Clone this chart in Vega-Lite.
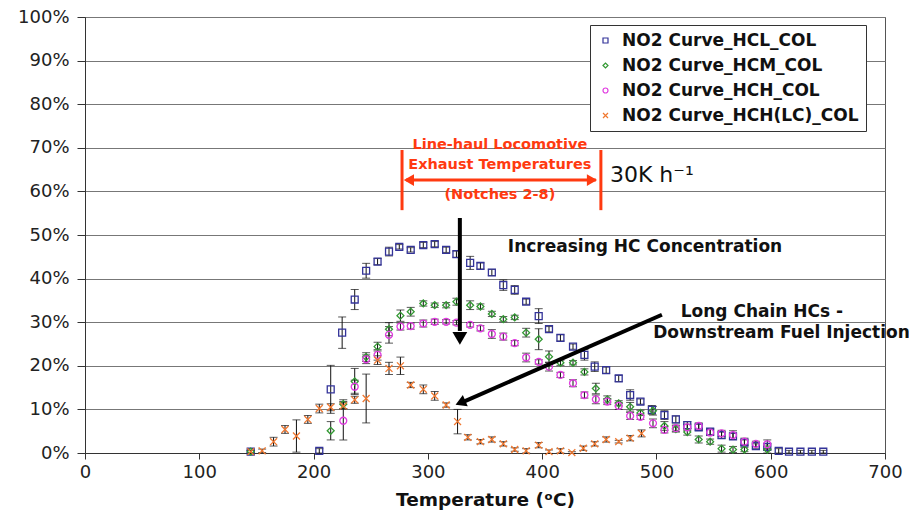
{
  "$schema": "https://vega.github.io/schema/vega-lite/v6.json",
  "width": 800,
  "height": 436,
  "autosize": "none",
  "padding": {"left": 85, "top": 17, "right": 24, "bottom": 67},
  "background": "white",
  "config": {
    "font": "DejaVu Sans",
    "view": {"stroke": "#555", "strokeWidth": 1},
    "axis": {"labelFont": "DejaVu Sans", "labelFontSize": 18, "labelColor": "#222", "domainColor": "#333", "tickColor": "#333", "titleFont": "DejaVu Sans", "titleColor": "#111", "labelFlush": false}
  },
  "datasets": {
    "pts": [
      {"s":"HCL_COL","t":145,"v":0.3,"e":0.3},{"s":"HCL_COL","t":205,"v":0.5,"e":0.5},{"s":"HCL_COL","t":215,"v":14.6,"e":5.5},{"s":"HCL_COL","t":225,"v":27.6,"e":3.6},{"s":"HCL_COL","t":236,"v":35.2,"e":2.3},{"s":"HCL_COL","t":246,"v":41.8,"e":1.7},{"s":"HCL_COL","t":256,"v":43.9,"e":0.7},{"s":"HCL_COL","t":266,"v":46.2,"e":1},{"s":"HCL_COL","t":275,"v":47.3,"e":0.5},{"s":"HCL_COL","t":285,"v":46.6,"e":0.5},{"s":"HCL_COL","t":296,"v":47.7,"e":0.6},{"s":"HCL_COL","t":306,"v":47.9,"e":0.6},{"s":"HCL_COL","t":316,"v":46.6,"e":0.6},{"s":"HCL_COL","t":325,"v":45.6,"e":0.7},{"s":"HCL_COL","t":337,"v":43.6,"e":1.5},{"s":"HCL_COL","t":346,"v":42.9,"e":0.7},{"s":"HCL_COL","t":356,"v":41.4,"e":0.7},{"s":"HCL_COL","t":366,"v":38.5,"e":1.2},{"s":"HCL_COL","t":376,"v":37.4,"e":1},{"s":"HCL_COL","t":386,"v":34.7,"e":0.6},{"s":"HCL_COL","t":397,"v":31.4,"e":1.7},{"s":"HCL_COL","t":406,"v":28.4,"e":0.6},{"s":"HCL_COL","t":416,"v":26.4,"e":0.7},{"s":"HCL_COL","t":427,"v":24.4,"e":0.6},{"s":"HCL_COL","t":437,"v":22.5,"e":1.2},{"s":"HCL_COL","t":446,"v":19.8,"e":1.1},{"s":"HCL_COL","t":456,"v":19.0,"e":0.7},{"s":"HCL_COL","t":467,"v":17.1,"e":0.7},{"s":"HCL_COL","t":477,"v":13.3,"e":1.2},{"s":"HCL_COL","t":486,"v":11.8,"e":0.6},{"s":"HCL_COL","t":496,"v":9.9,"e":1},{"s":"HCL_COL","t":507,"v":8.7,"e":1},{"s":"HCL_COL","t":517,"v":7.7,"e":0.8},{"s":"HCL_COL","t":527,"v":6.4,"e":0.8},{"s":"HCL_COL","t":537,"v":5.9,"e":0.7},{"s":"HCL_COL","t":547,"v":4.9,"e":0.7},{"s":"HCL_COL","t":557,"v":4.1,"e":0.7},{"s":"HCL_COL","t":567,"v":3.8,"e":0.7},{"s":"HCL_COL","t":577,"v":2.4,"e":0.6},{"s":"HCL_COL","t":587,"v":1.6,"e":0.5},{"s":"HCL_COL","t":597,"v":1.4,"e":0.7},{"s":"HCL_COL","t":607,"v":0.5,"e":0.5},{"s":"HCL_COL","t":616,"v":0.3,"e":0.3},{"s":"HCL_COL","t":626,"v":0.3,"e":0.3},{"s":"HCL_COL","t":636,"v":0.3,"e":0.3},{"s":"HCL_COL","t":646,"v":0.3,"e":0.3},
      {"s":"HCM_COL","t":145,"v":0.3,"e":0.3},{"s":"HCM_COL","t":215,"v":5.1,"e":2.1},{"s":"HCM_COL","t":226,"v":11.2,"e":1},{"s":"HCM_COL","t":236,"v":16.4,"e":3},{"s":"HCM_COL","t":246,"v":22,"e":1},{"s":"HCM_COL","t":256,"v":24.4,"e":1},{"s":"HCM_COL","t":266,"v":28.4,"e":1.5},{"s":"HCM_COL","t":276,"v":31.5,"e":1.3},{"s":"HCM_COL","t":285,"v":32.4,"e":1},{"s":"HCM_COL","t":296,"v":34.3,"e":0.6},{"s":"HCM_COL","t":306,"v":33.9,"e":0.5},{"s":"HCM_COL","t":316,"v":33.9,"e":0.6},{"s":"HCM_COL","t":325,"v":34.7,"e":0.8},{"s":"HCM_COL","t":337,"v":33.9,"e":1},{"s":"HCM_COL","t":346,"v":33.6,"e":0.6},{"s":"HCM_COL","t":356,"v":31.9,"e":0.6},{"s":"HCM_COL","t":366,"v":30.7,"e":0.6},{"s":"HCM_COL","t":376,"v":31.1,"e":0.5},{"s":"HCM_COL","t":386,"v":27.6,"e":1},{"s":"HCM_COL","t":397,"v":26.1,"e":2.4},{"s":"HCM_COL","t":406,"v":22.1,"e":1.3},{"s":"HCM_COL","t":416,"v":20.7,"e":0.6},{"s":"HCM_COL","t":427,"v":20.7,"e":0.5},{"s":"HCM_COL","t":437,"v":18.6,"e":0.7},{"s":"HCM_COL","t":447,"v":14.8,"e":1.2},{"s":"HCM_COL","t":457,"v":12.3,"e":0.8},{"s":"HCM_COL","t":467,"v":11.4,"e":0.6},{"s":"HCM_COL","t":477,"v":10.6,"e":1},{"s":"HCM_COL","t":486,"v":9.2,"e":0.6},{"s":"HCM_COL","t":497,"v":9.7,"e":1},{"s":"HCM_COL","t":507,"v":6.2,"e":1},{"s":"HCM_COL","t":517,"v":5.5,"e":0.7},{"s":"HCM_COL","t":527,"v":4.8,"e":0.7},{"s":"HCM_COL","t":537,"v":3.1,"e":0.8},{"s":"HCM_COL","t":547,"v":2.6,"e":0.6},{"s":"HCM_COL","t":557,"v":1.0,"e":0.8},{"s":"HCM_COL","t":567,"v":0.8,"e":0.7},{"s":"HCM_COL","t":577,"v":0.8,"e":0.5},{"s":"HCM_COL","t":597,"v":0.8,"e":0.8},
      {"s":"HCH_COL","t":226,"v":7.4,"e":4.4},{"s":"HCH_COL","t":236,"v":15.2,"e":1.5},{"s":"HCH_COL","t":246,"v":21.5,"e":1},{"s":"HCH_COL","t":256,"v":22.5,"e":1.2},{"s":"HCH_COL","t":266,"v":27.1,"e":1.9},{"s":"HCH_COL","t":276,"v":29,"e":0.8},{"s":"HCH_COL","t":285,"v":29.1,"e":0.7},{"s":"HCH_COL","t":296,"v":29.7,"e":0.8},{"s":"HCH_COL","t":306,"v":30.1,"e":0.6},{"s":"HCH_COL","t":316,"v":30.1,"e":0.5},{"s":"HCH_COL","t":325,"v":29.9,"e":0.5},{"s":"HCH_COL","t":337,"v":29.4,"e":0.5},{"s":"HCH_COL","t":346,"v":28.6,"e":0.6},{"s":"HCH_COL","t":356,"v":27.3,"e":1},{"s":"HCH_COL","t":366,"v":26.7,"e":0.8},{"s":"HCH_COL","t":376,"v":25.2,"e":0.6},{"s":"HCH_COL","t":386,"v":21.9,"e":1},{"s":"HCH_COL","t":397,"v":20.9,"e":0.5},{"s":"HCH_COL","t":406,"v":19.8,"e":1},{"s":"HCH_COL","t":416,"v":17.9,"e":0.6},{"s":"HCH_COL","t":427,"v":16,"e":0.8},{"s":"HCH_COL","t":437,"v":13.3,"e":0.7},{"s":"HCH_COL","t":447,"v":12.3,"e":1},{"s":"HCH_COL","t":457,"v":11.8,"e":0.7},{"s":"HCH_COL","t":467,"v":10.8,"e":0.8},{"s":"HCH_COL","t":477,"v":8.5,"e":0.8},{"s":"HCH_COL","t":486,"v":8.3,"e":0.6},{"s":"HCH_COL","t":497,"v":6.8,"e":1},{"s":"HCH_COL","t":507,"v":5.3,"e":0.7},{"s":"HCH_COL","t":517,"v":5.7,"e":0.7},{"s":"HCH_COL","t":527,"v":5.9,"e":0.7},{"s":"HCH_COL","t":537,"v":6.2,"e":0.7},{"s":"HCH_COL","t":547,"v":4.7,"e":0.7},{"s":"HCH_COL","t":557,"v":4.5,"e":0.7},{"s":"HCH_COL","t":567,"v":4.1,"e":1},{"s":"HCH_COL","t":577,"v":2.6,"e":0.8},{"s":"HCH_COL","t":587,"v":2.1,"e":0.6},{"s":"HCH_COL","t":597,"v":2.0,"e":1},
      {"s":"HCH(LC)_COL","t":145,"v":0.3,"e":0.3},{"s":"HCH(LC)_COL","t":155,"v":0.5,"e":0.4},{"s":"HCH(LC)_COL","t":165,"v":2.6,"e":1},{"s":"HCH(LC)_COL","t":175,"v":5.4,"e":0.9},{"s":"HCH(LC)_COL","t":185,"v":3.9,"e":3.7},{"s":"HCH(LC)_COL","t":195,"v":7.7,"e":0.9},{"s":"HCH(LC)_COL","t":205,"v":10.2,"e":1},{"s":"HCH(LC)_COL","t":215,"v":10.5,"e":0.8},{"s":"HCH(LC)_COL","t":226,"v":10.8,"e":0.7},{"s":"HCH(LC)_COL","t":236,"v":12.2,"e":0.8},{"s":"HCH(LC)_COL","t":246,"v":12.5,"e":5.6},{"s":"HCH(LC)_COL","t":256,"v":21.3,"e":1},{"s":"HCH(LC)_COL","t":266,"v":19.4,"e":1.4},{"s":"HCH(LC)_COL","t":276,"v":20,"e":2},{"s":"HCH(LC)_COL","t":285,"v":15.6,"e":0.6},{"s":"HCH(LC)_COL","t":296,"v":14.6,"e":1},{"s":"HCH(LC)_COL","t":306,"v":13.1,"e":1},{"s":"HCH(LC)_COL","t":316,"v":11,"e":0.5},{"s":"HCH(LC)_COL","t":326,"v":7.2,"e":2.8},{"s":"HCH(LC)_COL","t":335,"v":3.6,"e":0.6},{"s":"HCH(LC)_COL","t":346,"v":2.6,"e":0.5},{"s":"HCH(LC)_COL","t":356,"v":3.1,"e":0.6},{"s":"HCH(LC)_COL","t":366,"v":2.1,"e":0.5},{"s":"HCH(LC)_COL","t":376,"v":0.8,"e":0.4},{"s":"HCH(LC)_COL","t":386,"v":0.5,"e":0.5},{"s":"HCH(LC)_COL","t":397,"v":1.8,"e":0.6},{"s":"HCH(LC)_COL","t":406,"v":0.3,"e":0.4},{"s":"HCH(LC)_COL","t":416,"v":0.5,"e":0.5},{"s":"HCH(LC)_COL","t":426,"v":0.1,"e":0.2},{"s":"HCH(LC)_COL","t":436,"v":1.1,"e":0.5},{"s":"HCH(LC)_COL","t":446,"v":2.1,"e":0.5},{"s":"HCH(LC)_COL","t":456,"v":3.1,"e":0.6},{"s":"HCH(LC)_COL","t":467,"v":2.6,"e":0.3},{"s":"HCH(LC)_COL","t":477,"v":3.4,"e":0.6},{"s":"HCH(LC)_COL","t":487,"v":4.5,"e":0.8}
    ],
    "redbars": [{"t":277.4,"v":55.7,"t2":277.4,"v2":69.5},{"t":451.4,"v":55.7,"t2":451.4,"v2":69.5},{"t":281,"v":62.6,"t2":447,"v2":62.6}],
    "redleft": [{"t":283.4,"v":62.6}],
    "redright": [{"t":443.6,"v":62.6}],
    "blackarrows": [{"t":328,"v":53.9,"t2":328,"v2":28},{"t":504.8,"v":31.7,"t2":329,"v2":11.5}],
    "blackdown": [{"t":328,"v":26.3}],
    "blackdiag": [{"t":328.5,"v":11.55}],
    "redtext": [{"t":363,"v":70.6,"label":"Line-haul Locomotive"},{"t":363,"v":66.1,"label":"Exhaust Temperatures"},{"t":363,"v":59.2,"label":"(Notches 2-8)"}],
    "boldtext": [{"t":490,"v":47.2,"label":"Increasing HC Concentration"},{"t":592.3,"v":32.3,"label":"Long Chain HCs -"},{"t":609.4,"v":27.5,"label":"Downstream Fuel Injection"}],
    "ghsv": [{"t":459.3,"v":63.8,"label":"30K h⁻¹"}]
  },
  "layer": [
    {
      "data": {"name": "pts"},
      "mark": {"type": "errorbar", "ticks": {"size": 8, "color": "#111"}, "color": "#111", "thickness": 1},
      "encoding": {
        "x": {"field": "t", "type": "quantitative", "scale": {"domain": [0, 700], "nice": false}, "axis": {"values": [0,100,200,300,400,500,600,700], "grid": false, "tickSize": 6, "labelPadding": 4, "title": "Temperature (ᵒC)", "titleFontSize": 18.5, "titleFontWeight": "bold", "titlePadding": 9}},
        "y": {"field": "v", "type": "quantitative", "scale": {"domain": [0, 100], "nice": false}, "axis": {"values": [0,10,20,30,40,50,60,70,80,90,100], "labelExpr": "datum.value + '%'", "grid": true, "gridColor": "#777", "gridWidth": 1, "tickSize": 8, "labelPadding": 8, "title": null}},
        "yError": {"field": "e"}
      }
    },
    {
      "data": {"name": "pts"},
      "mark": {"type": "point", "filled": false, "strokeWidth": 1.3, "size": 48, "opacity": 1},
      "encoding": {
        "x": {"field": "t", "type": "quantitative", "title": "Temperature (ᵒC)"},
        "y": {"field": "v", "type": "quantitative", "title": null},
        "color": {"field": "s", "type": "nominal", "scale": {"domain": ["HCL_COL","HCM_COL","HCH_COL","HCH(LC)_COL"], "range": ["#333399","#339933","#e03ce0","#f07830"]},
          "legend": {"orient": "none", "legendX": 505, "legendY": 8, "title": null, "labelFontSize": 17, "labelFontWeight": "bold", "labelColor": "#111", "labelFont": "DejaVu Sans", "strokeColor": "#333", "fillColor": "white", "padding": 7, "symbolSize": 25, "rowPadding": 7, "symbolStrokeWidth": 1.2, "labelOffset": 8, "labelExpr": "'NO2 Curve_' + datum.label", "labelLimit": 400}},
        "shape": {"field": "s", "type": "nominal", "scale": {"domain": ["HCL_COL","HCM_COL","HCH_COL","HCH(LC)_COL"], "range": ["square","diamond","circle","M-1,-1L1,1M1,-1L-1,1"]}}
      }
    },
    {
      "data": {"name": "redbars"},
      "mark": {"type": "rule", "color": "#ff3a10", "strokeWidth": 3},
      "encoding": {"x": {"field": "t", "type": "quantitative", "title": "Temperature (ᵒC)"}, "x2": {"field": "t2"}, "y": {"field": "v", "type": "quantitative", "title": null}, "y2": {"field": "v2"}}
    },
    {
      "data": {"name": "redleft"},
      "mark": {"type": "point", "shape": "triangle-left", "filled": true, "color": "#ff3a10", "size": 140, "opacity": 1},
      "encoding": {"x": {"field": "t", "type": "quantitative", "title": "Temperature (ᵒC)"}, "y": {"field": "v", "type": "quantitative", "title": null}}
    },
    {
      "data": {"name": "redright"},
      "mark": {"type": "point", "shape": "triangle-right", "filled": true, "color": "#ff3a10", "size": 140, "opacity": 1},
      "encoding": {"x": {"field": "t", "type": "quantitative", "title": "Temperature (ᵒC)"}, "y": {"field": "v", "type": "quantitative", "title": null}}
    },
    {
      "data": {"name": "blackarrows"},
      "mark": {"type": "rule", "color": "#000", "strokeWidth": 4},
      "encoding": {"x": {"field": "t", "type": "quantitative", "title": "Temperature (ᵒC)"}, "x2": {"field": "t2"}, "y": {"field": "v", "type": "quantitative", "title": null}, "y2": {"field": "v2"}}
    },
    {
      "data": {"name": "blackdown"},
      "mark": {"type": "point", "shape": "triangle-down", "filled": true, "color": "#000", "size": 220, "opacity": 1},
      "encoding": {"x": {"field": "t", "type": "quantitative", "title": "Temperature (ᵒC)"}, "y": {"field": "v", "type": "quantitative", "title": null}}
    },
    {
      "data": {"name": "blackdiag"},
      "mark": {"type": "point", "shape": "triangle-left", "filled": true, "color": "#000", "size": 150, "opacity": 1, "angle": -23.5},
      "encoding": {"x": {"field": "t", "type": "quantitative", "title": "Temperature (ᵒC)"}, "y": {"field": "v", "type": "quantitative", "title": null}}
    },
    {
      "data": {"name": "redtext"},
      "mark": {"type": "text", "color": "#ff3a10", "font": "DejaVu Sans", "fontWeight": "bold", "fontSize": 14.5, "align": "center", "baseline": "middle"},
      "encoding": {"x": {"field": "t", "type": "quantitative", "title": "Temperature (ᵒC)"}, "y": {"field": "v", "type": "quantitative", "title": null}, "text": {"field": "label"}}
    },
    {
      "data": {"name": "boldtext"},
      "mark": {"type": "text", "color": "#111", "font": "DejaVu Sans", "fontWeight": "bold", "fontSize": 17, "align": "center", "baseline": "middle"},
      "encoding": {"x": {"field": "t", "type": "quantitative", "title": "Temperature (ᵒC)"}, "y": {"field": "v", "type": "quantitative", "title": null}, "text": {"field": "label"}}
    },
    {
      "data": {"name": "ghsv"},
      "mark": {"type": "text", "color": "#111", "font": "DejaVu Sans", "fontSize": 22, "align": "left", "baseline": "middle"},
      "encoding": {"x": {"field": "t", "type": "quantitative", "title": "Temperature (ᵒC)"}, "y": {"field": "v", "type": "quantitative", "title": null}, "text": {"field": "label"}}
    }
  ]
}
